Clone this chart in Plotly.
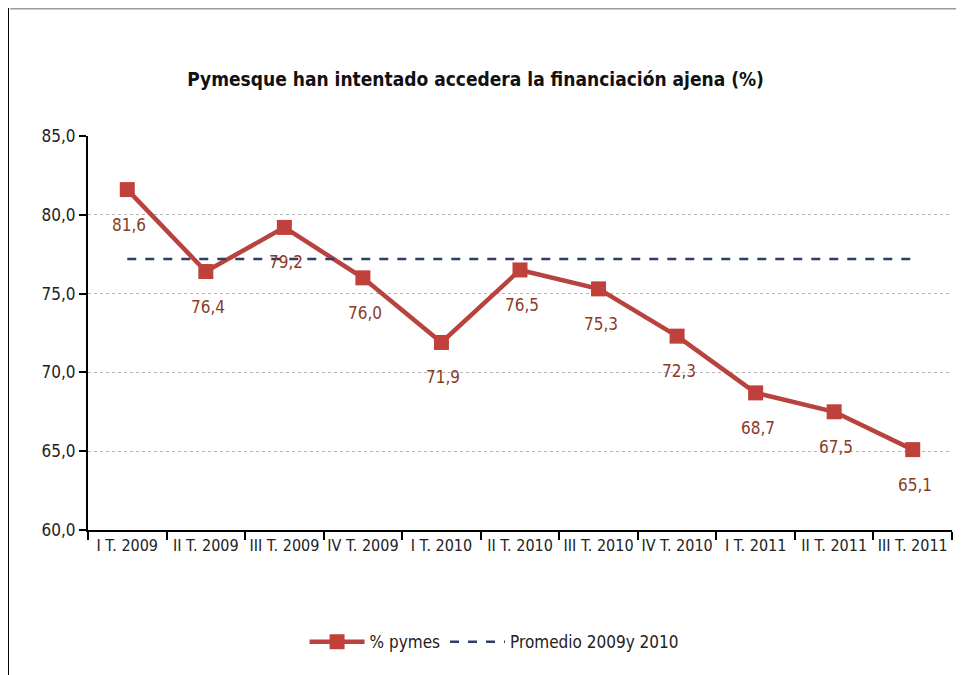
import plotly.graph_objects as go

# trimestres
quarters = ["I T. 2009", "II T. 2009", "III T. 2009", "IV T. 2009",
            "I T. 2010", "II T. 2010", "III T. 2010", "IV T. 2010",
            "I T. 2011", "II T. 2011", "III T. 2011"]
pymes = [81.6, 76.4, 79.2, 76.0, 71.9, 76.5, 75.3, 72.3, 68.7, 67.5, 65.1]
promedio = 77.2
promedio_line = [promedio] * len(quarters)
y_ticks = [60, 65, 70, 75, 80, 85]
y_tick_text = ["60,0", "65,0", "70,0", "75,0", "80,0", "85,0"]

FONT = "DejaVu Sans Condensed, Liberation Sans Narrow, Arial Narrow, sans-serif"
labels = [f"{v:.1f}".replace(".", ",") for v in pymes]

fig = go.Figure()
fig.add_trace(go.Scatter(
    x=quarters, y=pymes, name="% pymes",
    mode="lines+markers",
    line=dict(color="#b8423e", width=4.5),
    marker=dict(symbol="square", size=15, color="#c0403c"),
))
fig.add_trace(go.Scatter(
    x=quarters, y=promedio_line, name="Promedio 2009y 2010",
    mode="lines",
    line=dict(color="#2e3f63", width=2.5, dash="dash"),
))

# etiquetas de datos debajo de cada punto
for q, v, t in zip(quarters, pymes, labels):
    fig.add_annotation(x=q, y=v, text=t, showarrow=False, yshift=-35, xshift=2,
                       font=dict(color="#8a3b27", size=17, family=FONT))

# la pagina tiene un margen de 8px en el body, se compensa aqui
fig.update_layout(
    width=964, height=675,
    paper_bgcolor="white", plot_bgcolor="white",
    margin=dict(l=80, r=20, t=128, b=153),
    font=dict(family=FONT, size=16, color="#222"),
    title=dict(text="<b>Pymesque han intentado accedera la financiación ajena (%)</b>",
               x=0.485, xanchor="center", y=0.895, yanchor="middle",
               font=dict(size=19, color="#111", family=FONT)),
    showlegend=True,
    legend=dict(orientation="h", x=0.47, xanchor="center", y=-0.285, yanchor="middle",
                itemwidth=55,
                font=dict(size=17, family=FONT, color="#222")),
    xaxis=dict(
        range=[-0.5, len(quarters) - 0.5],
        showline=True, linecolor="black", linewidth=2,
        ticks="outside", tickson="boundaries", ticklen=8, tickcolor="black", tickwidth=2,
        showgrid=False, tickfont=dict(size=16, family=FONT, color="#222"),
        tickangle=0, automargin=False,
    ),
    yaxis=dict(
        range=[60, 85], tickvals=y_ticks, ticktext=y_tick_text,
        showline=True, linecolor="black", linewidth=2,
        ticks="outside", ticklen=7, tickcolor="black", tickwidth=2,
        showgrid=True, gridcolor="#b5b5b5", griddash="dot", gridwidth=1,
        tickfont=dict(size=17, family=FONT, color="#222"),
        zeroline=False, automargin=False,
    ),
)

# marco de la figura
fig.add_shape(type="line", xref="paper", yref="paper", x0=-0.09, x1=1.02, y0=1.325, y1=1.325,
              line=dict(color="#999", width=3))
fig.add_shape(type="line", xref="paper", yref="paper", x0=-0.0926, x1=-0.0926, y0=-0.4, y1=1.325,
              line=dict(color="black", width=2))

fig.write_html("out.html")
